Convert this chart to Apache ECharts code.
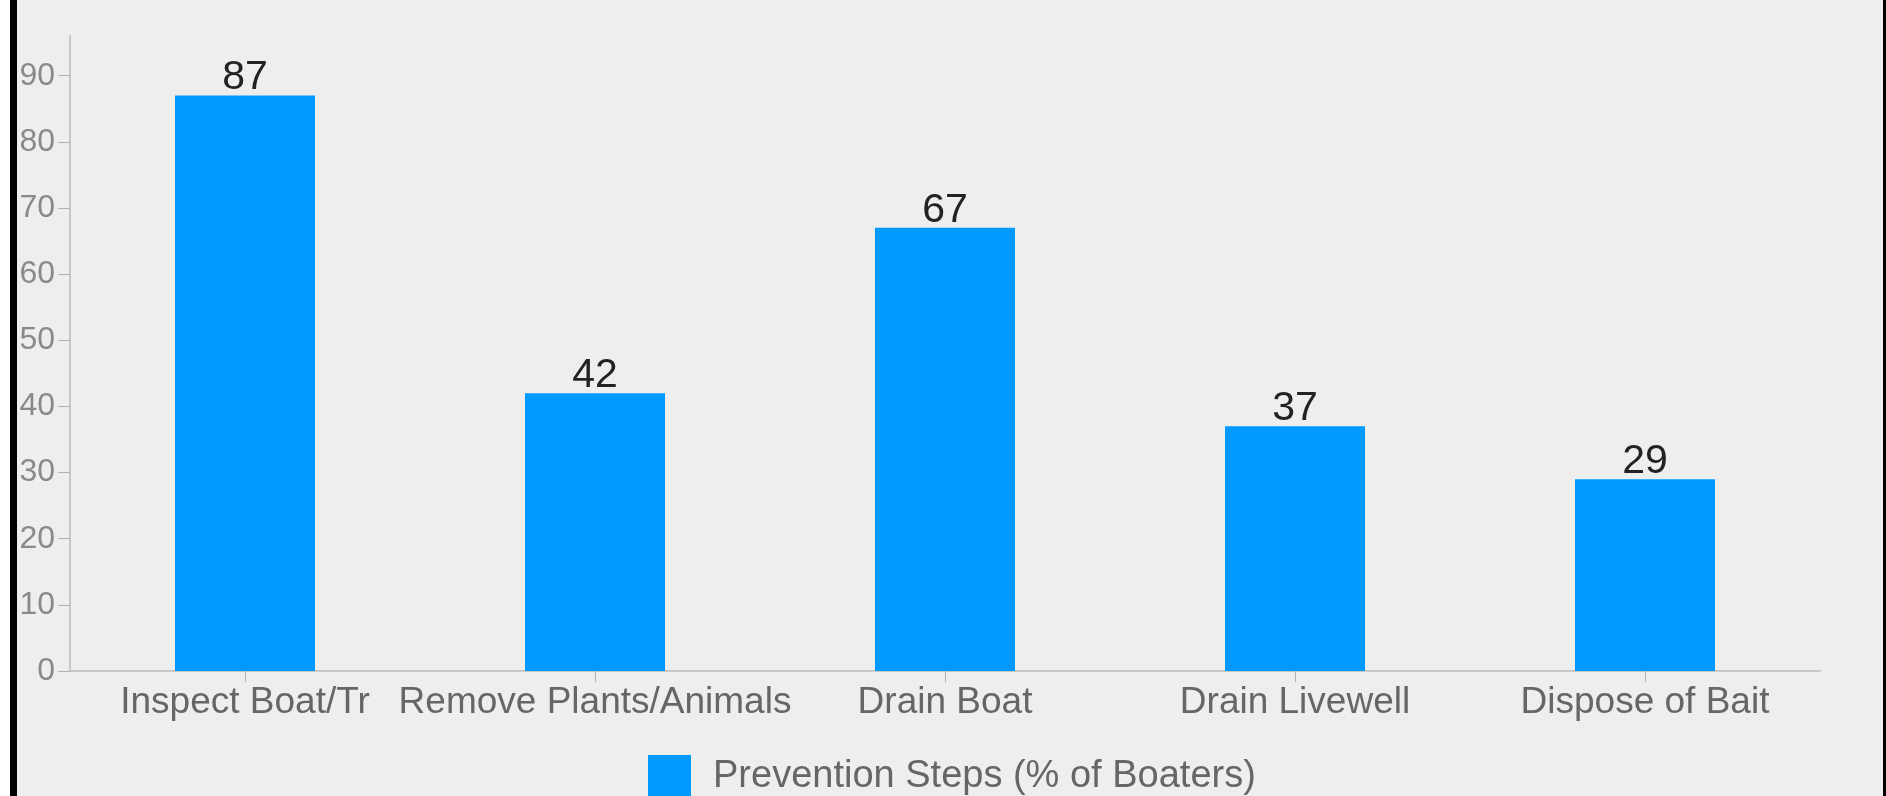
<!DOCTYPE html>
<html>
<head>
<meta charset="utf-8">
<script src="https://cdn.jsdelivr.net/npm/echarts@6/dist/echarts.min.js"></script>
<style>
  html, body { margin: 0; padding: 0; background: #ffffff; overflow: hidden; }
  #chart { position: absolute; left: 0; top: 0; width: 1886px; height: 796px; }
  .edge { position: absolute; top: 0; height: 796px; }
</style>
</head>
<body>
<div id="chart"></div>
<div class="edge" style="left:0;width:10px;background:#ffffff;"></div>
<div class="edge" style="left:10px;width:7px;background:#000000;"></div>
<div class="edge" style="left:1883px;width:3px;background:#000000;"></div>
<script>
const categories = ['Inspect Boat/Tr', 'Remove Plants/Animals', 'Drain Boat', 'Drain Livewell', 'Dispose of Bait'];
const seriesName = 'Prevention Steps (% of Boaters)';
const values = [87, 42, 67, 37, 29];
const yTicks = [0, 10, 20, 30, 40, 50, 60, 70, 80, 90];
const yMax = 96;

const FONT = '"Liberation Sans", Arial, Helvetica, sans-serif';
const chart = echarts.init(document.getElementById('chart'), null, { renderer: 'canvas' });
chart.setOption({
  backgroundColor: '#eeeeee',
  animation: false,
  textStyle: { fontFamily: FONT },
  grid: { left: 70, right: 66, top: 36, bottom: 125, containLabel: false },
  legend: {
    data: [seriesName],
    left: 648,
    top: 755,
    itemWidth: 43,
    itemHeight: 43,
    icon: 'rect',
    padding: 0,
    textStyle: { fontFamily: FONT, fontSize: 38, color: '#666666', padding: [0, 0, 0, 17] }
  },
  xAxis: {
    type: 'category',
    data: categories,
    axisLine: { show: true, lineStyle: { color: '#c8c8c8', width: 2 } },
    axisTick: { show: true, alignWithLabel: true, length: 11, lineStyle: { color: '#b0b0b0', width: 1 } },
    axisLabel: { fontFamily: FONT, fontSize: 37, color: '#666666', margin: 13, interval: 0 },
    splitLine: { show: false }
  },
  yAxis: {
    type: 'value',
    min: 0,
    max: yMax,
    interval: 10,
    axisLine: { show: true, lineStyle: { color: '#c8c8c8', width: 2 } },
    axisTick: { show: true, length: 12, customValues: yTicks, lineStyle: { color: '#b0b0b0', width: 1 } },
    axisLabel: { fontFamily: FONT, fontSize: 32, color: '#8a8a8a', margin: 15, customValues: yTicks },
    splitLine: { show: false }
  },
  series: [{
    name: seriesName,
    type: 'bar',
    data: values,
    barWidth: '40%',
    itemStyle: { color: '#0099ff' },
    label: {
      show: true,
      position: 'top',
      distance: -3,
      fontFamily: FONT,
      fontSize: 41,
      color: '#222222'
    }
  }]
});
</script>
</body>
</html>
